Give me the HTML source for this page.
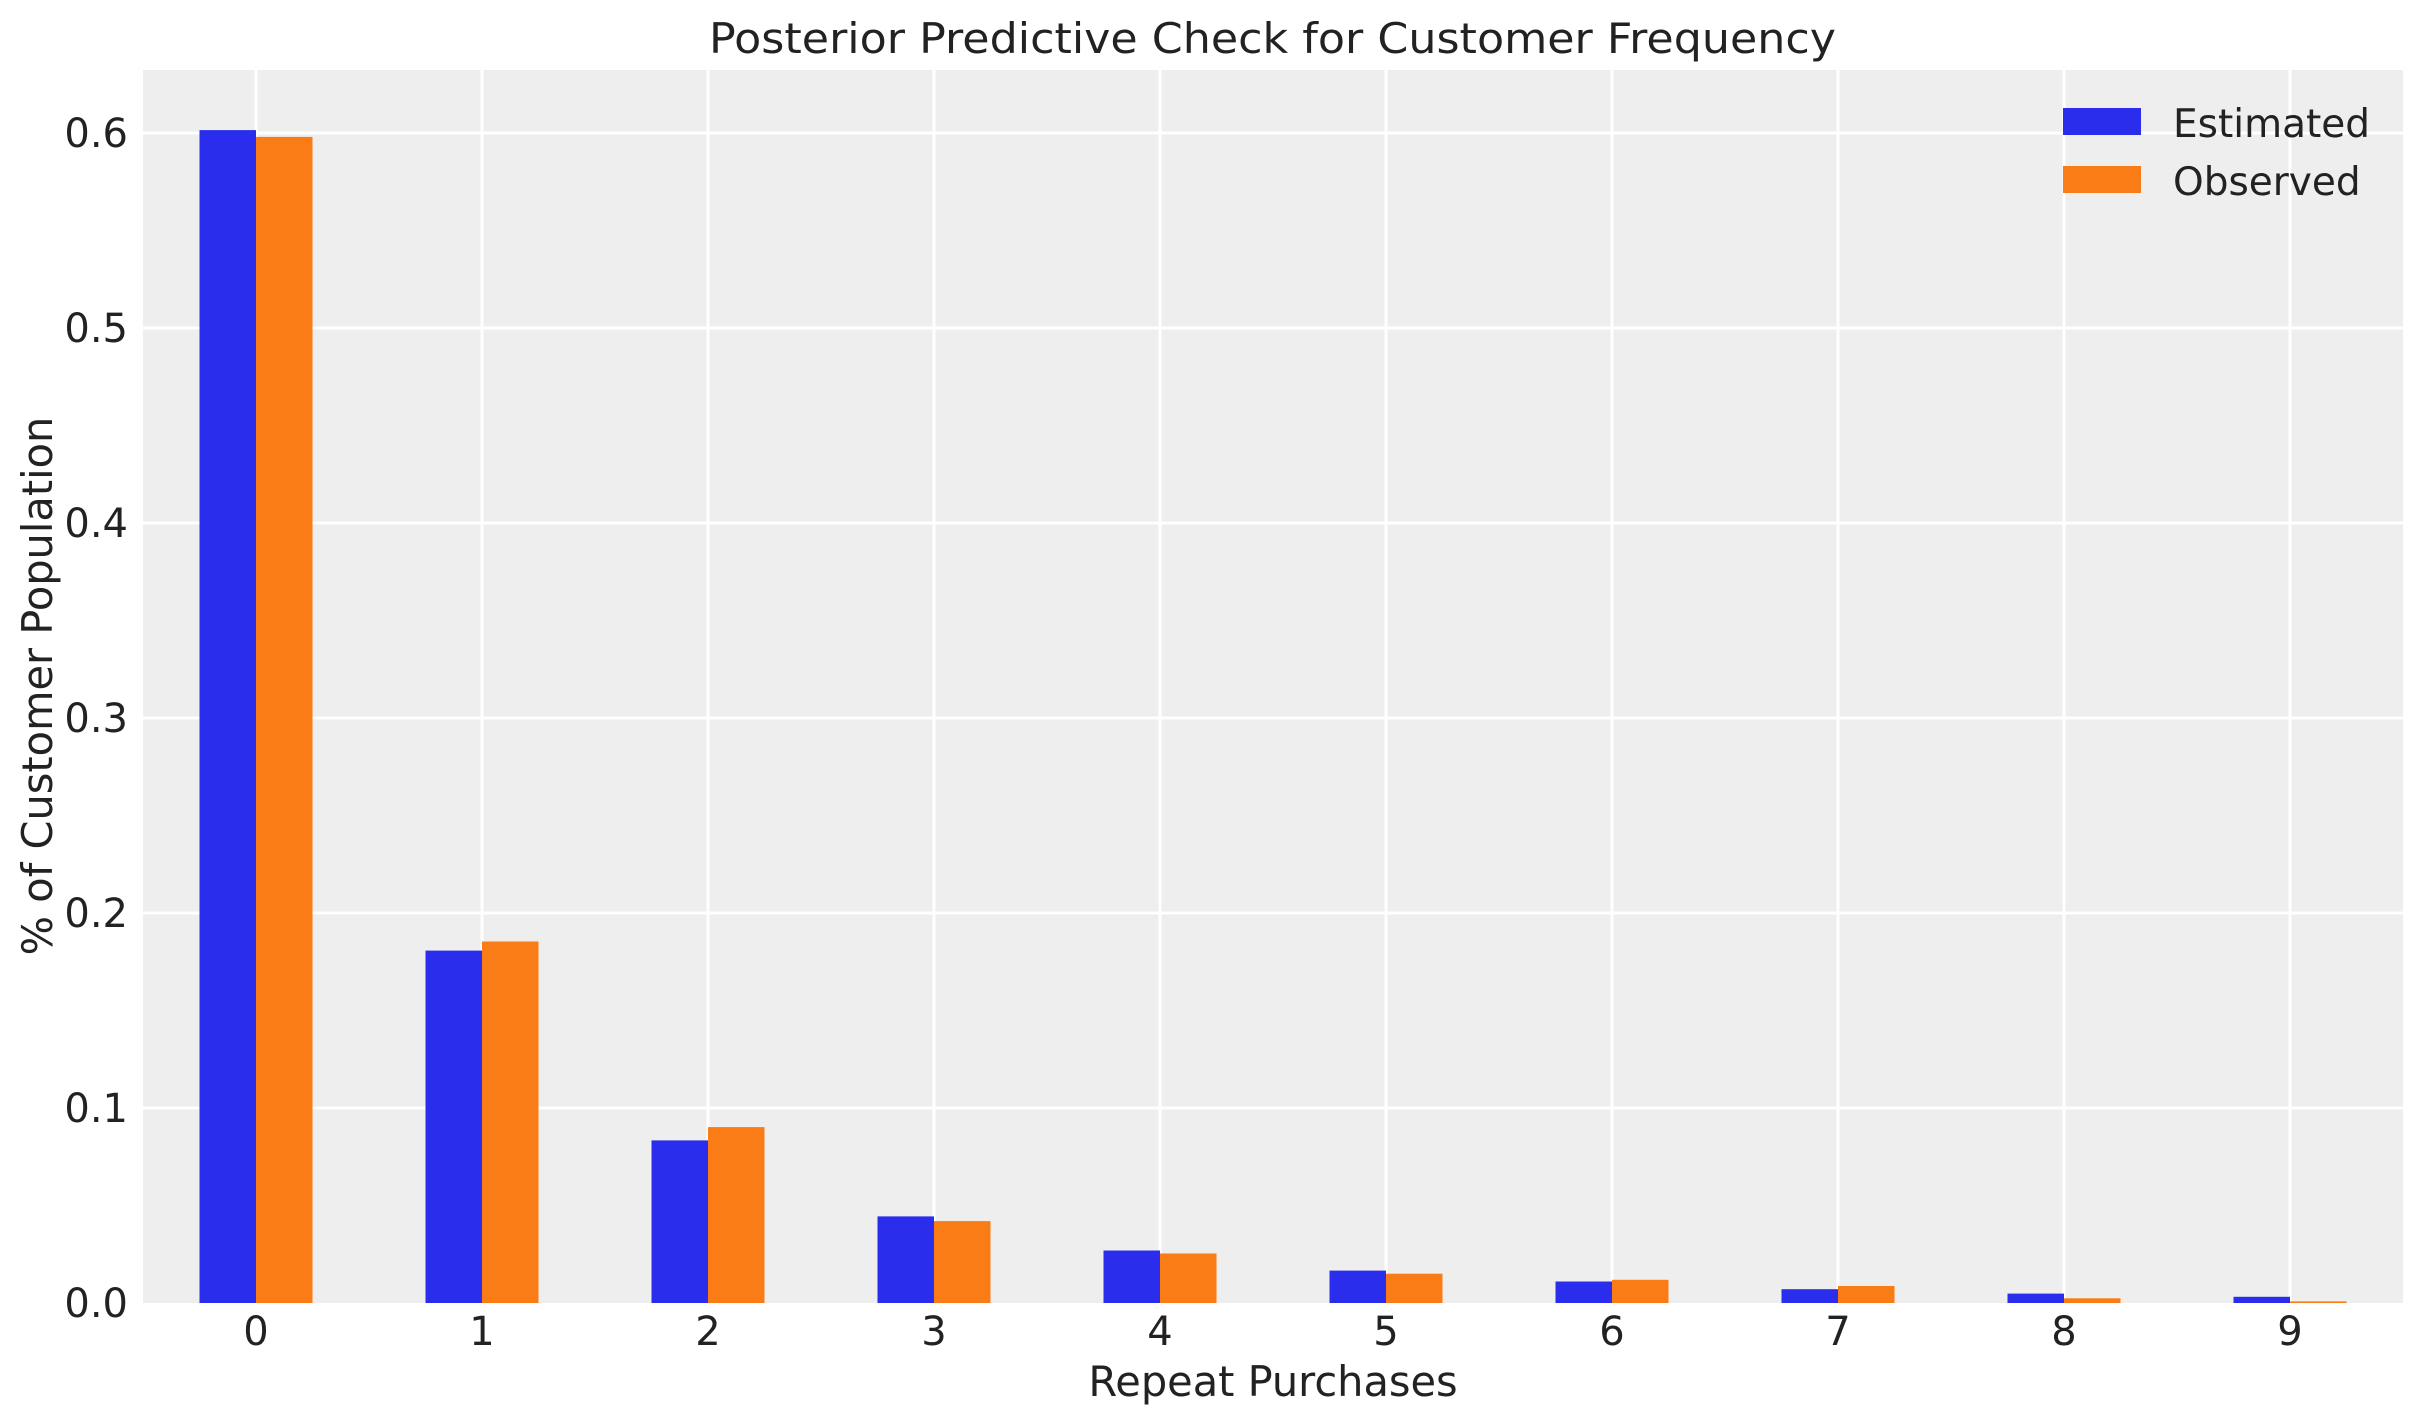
<!DOCTYPE html>
<html><head><meta charset="utf-8"><style>html,body{margin:0;padding:0;background:#fff}svg{display:block}</style></head>
<body>
<svg width="2423" height="1423" xmlns="http://www.w3.org/2000/svg" font-family="DejaVu Sans, Liberation Sans, sans-serif" fill="#222">
<rect x="143" y="70" width="2260" height="1233" fill="#eeeeee"/>
<g stroke="#fff" stroke-width="3">
<line x1="143" x2="2403" y1="1108" y2="1108"/><line x1="143" x2="2403" y1="913" y2="913"/><line x1="143" x2="2403" y1="718" y2="718"/><line x1="143" x2="2403" y1="523" y2="523"/><line x1="143" x2="2403" y1="328" y2="328"/><line x1="143" x2="2403" y1="133" y2="133"/>
<line y1="70" y2="1303" x1="256" x2="256"/><line y1="70" y2="1303" x1="482" x2="482"/><line y1="70" y2="1303" x1="708" x2="708"/><line y1="70" y2="1303" x1="934" x2="934"/><line y1="70" y2="1303" x1="1160" x2="1160"/><line y1="70" y2="1303" x1="1386" x2="1386"/><line y1="70" y2="1303" x1="1612" x2="1612"/><line y1="70" y2="1303" x1="1838" x2="1838"/><line y1="70" y2="1303" x1="2064" x2="2064"/><line y1="70" y2="1303" x1="2290" x2="2290"/>
</g>
<g fill="#2a2eec">
<rect x="199.5" y="130.1" width="56.5" height="1172.9"/>
<rect x="425.5" y="950.6" width="56.5" height="352.4"/>
<rect x="651.5" y="1140.4" width="56.5" height="162.6"/>
<rect x="877.5" y="1216.4" width="56.5" height="86.6"/>
<rect x="1103.5" y="1250.5" width="56.5" height="52.5"/>
<rect x="1329.5" y="1270.6" width="56.5" height="32.4"/>
<rect x="1555.5" y="1281.5" width="56.5" height="21.5"/>
<rect x="1781.5" y="1289.2" width="56.5" height="13.8"/>
<rect x="2007.5" y="1293.6" width="56.5" height="9.4"/>
<rect x="2233.5" y="1296.8" width="56.5" height="6.2"/>
</g>
<g fill="#fa7c17">
<rect x="256" y="136.9" width="56.5" height="1166.1"/>
<rect x="482" y="941.5" width="56.5" height="361.5"/>
<rect x="708" y="1127.1" width="56.5" height="175.9"/>
<rect x="934" y="1221.1" width="56.5" height="81.9"/>
<rect x="1160" y="1253.5" width="56.5" height="49.5"/>
<rect x="1386" y="1273.7" width="56.5" height="29.3"/>
<rect x="1612" y="1279.8" width="56.5" height="23.2"/>
<rect x="1838" y="1286" width="56.5" height="17"/>
<rect x="2064" y="1298.3" width="56.5" height="4.7"/>
<rect x="2290" y="1301.4" width="56.5" height="1.6"/>
</g>
<g font-size="40" text-anchor="end">
<text x="128" y="1317">0.0</text><text x="128" y="1122">0.1</text><text x="128" y="927">0.2</text><text x="128" y="732">0.3</text><text x="128" y="537">0.4</text><text x="128" y="342">0.5</text><text x="128" y="147">0.6</text>
</g>
<g font-size="40" text-anchor="middle">
<text x="256" y="1345">0</text><text x="482" y="1345">1</text><text x="708" y="1345">2</text><text x="934" y="1345">3</text><text x="1160" y="1345">4</text><text x="1386" y="1345">5</text><text x="1612" y="1345">6</text><text x="1838" y="1345">7</text><text x="2064" y="1345">8</text><text x="2290" y="1345">9</text>
</g>
<text x="1273" y="1396" font-size="41.5" text-anchor="middle">Repeat Purchases</text>
<text transform="translate(52,686) rotate(-90)" font-size="41.5" text-anchor="middle">% of Customer Population</text>
<text x="709" y="53" font-size="42" textLength="1127" lengthAdjust="spacingAndGlyphs">Posterior Predictive Check for Customer Frequency</text>
<rect x="2063" y="108" width="78" height="27" fill="#2a2eec"/>
<rect x="2063" y="166" width="78" height="27" fill="#fa7c17"/>
<text x="2173" y="137" font-size="39">Estimated</text>
<text x="2173" y="195" font-size="39">Observed</text>
</svg>
</body></html>
